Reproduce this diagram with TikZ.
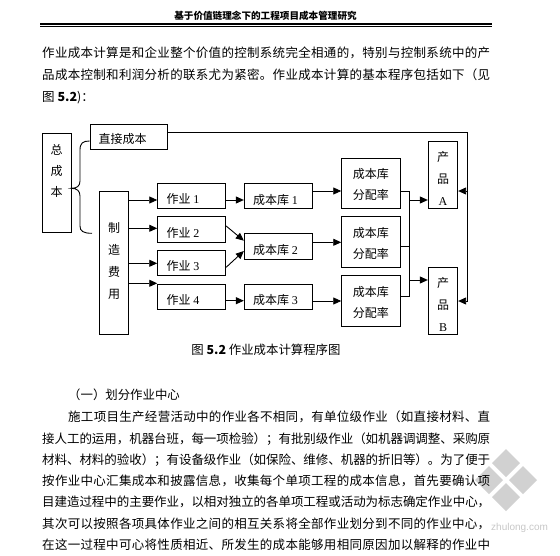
\documentclass[tikz,border=0pt]{standalone}
\usepackage{fontspec}
\setmainfont{Liberation Serif}
\newfontfamily\cjk{Noto Sans CJK SC}
\newfontfamily\lat{Liberation Serif}
\newfontfamily\wmfont{Liberation Sans}
\usetikzlibrary{arrows.meta}
\def\spr#1{#1\sprB}
\def\sprB#1{\ifx\relax#1\else\hskip 0pt plus 1fil minus 1fil\relax#1\expandafter\sprB\fi}
\newcommand\tline[5]{\node[tl] (#1) at (#2,#3) {\makebox[#4pt][s]{\spr#5\relax}};}
\newcommand\rbox[5]{\node[pbox, minimum width={#4-#2}, minimum height={#5-#3}] (#1) at ({(#2+#4)/2},{(#3+#5)/2}) {};}
\tikzset{
  pbox/.style={draw, line width=0.9pt, inner sep=0pt},
  lbl/.style={inner sep=0pt, align=center, font=\cjk\fontsize{12}{21}\selectfont},
  ln/.style={line width=0.9pt},
  arr/.style={line width=0.9pt, -{Triangle[length=8pt,width=7pt]}},
  tl/.style={anchor=base west, inner sep=0pt, font=\cjk\fontsize{12.5}{15}\selectfont},
}
\begin{document}
\begin{tikzpicture}[x=1pt,y=-1pt]
\useasboundingbox (0,0) rectangle (560,555);
% watermark
\fill[black!18] (506,463) +(0,-14) -- +(14,0) -- +(0,14) -- +(-14,0) -- cycle;
\fill[black!18] (506,497) +(0,-14) -- +(14,0) -- +(0,14) -- +(-14,0) -- cycle;
\fill[black!18] (489,480) +(0,-14) -- +(14,0) -- +(0,14) -- +(-14,0) -- cycle;
\fill[black!18] (523,480) +(0,-14) -- +(14,0) -- +(0,14) -- +(-14,0) -- cycle;
\node[anchor=west, font=\wmfont\fontsize{10}{12}\selectfont, text=black!22, inner sep=0pt] (wm) at (491,528) {zhulong.com};
% header
\node[inner sep=0pt, font=\cjk\bfseries\fontsize{9.6}{11}\selectfont] (hdr) at (265.5,16) {基于价值链理念下的工程项目成本管理研究};
\draw[line width=1.5pt] (40,23.8) -- (492,23.8);
\draw[line width=0.6pt] (40,26.7) -- (492,26.7);
% paragraph 1
\tline{p1}{42}{57.75}{448}{作业成本计算是和企业整个价值的控制系统完全相通的，特别与控制系统中的产}
\tline{p2}{42}{79.75}{448}{品成本控制和利润分析的联系尤为紧密。作业成本计算的基本程序包括如下（见}
\node[tl] (p3) at (42,101.75) {图 \textbf{5.2})：};
% diagram boxes
\rbox{zcb}{42}{133}{71}{232}
\rbox{zjcb}{90}{124.3}{167}{149.3}
\rbox{zzfy}{99.3}{191}{128.7}{334}
\rbox{zy1}{157.7}{183.3}{225.7}{208.3}
\rbox{zy2}{157.7}{216.7}{225.7}{242.3}
\rbox{zy3}{157.7}{250.7}{225.7}{275.7}
\rbox{zy4}{157.7}{284.3}{225.7}{309.3}
\rbox{ck1}{244.3}{183.3}{312.7}{208.3}
\rbox{ck2}{244.3}{233.3}{312.7}{259.3}
\rbox{ck3}{244.3}{284.3}{312.7}{309.3}
\rbox{fp1}{341.7}{158.3}{400}{208.3}
\rbox{fp2}{341.7}{216.7}{400}{267.3}
\rbox{fp3}{341.7}{275.7}{400}{326}
\rbox{cpA}{428.3}{141.7}{457.7}{208.3}
\rbox{cpB}{428.3}{267.3}{457.7}{334}
% labels
\node[lbl] (t-zcb) at (56.5,170.8) {总\\成\\本};
\node[lbl, anchor=west] (t-zjcb) at (98.3,139) {直接成本};
\node[lbl, font=\cjk\fontsize{12}{22}\selectfont] (t-zzfy) at (114,261) {制\\造\\费\\用};
\node[lbl, anchor=west] (t-zy1) at (166.5,199) {作业 {\lat 1}};
\node[lbl, anchor=west] (t-zy2) at (166.5,232.5) {作业 {\lat 2}};
\node[lbl, anchor=west] (t-zy3) at (166.5,266) {作业 {\lat 3}};
\node[lbl, anchor=west] (t-zy4) at (166.5,300) {作业 {\lat 4}};
\node[lbl, anchor=west] (t-ck1) at (253,199.5) {成本库 {\lat 1}};
\node[lbl, anchor=west] (t-ck2) at (253,250) {成本库 {\lat 2}};
\node[lbl, anchor=west] (t-ck3) at (253,300) {成本库 {\lat 3}};
\node[lbl] (t-fp1) at (370.8,184.7) {成本库\\分配率};
\node[lbl] (t-fp2) at (370.8,243) {成本库\\分配率};
\node[lbl] (t-fp3) at (370.8,302.5) {成本库\\分配率};
\node[lbl, font=\cjk\fontsize{12}{21.7}\selectfont] (t-cpA) at (443,178.3) {产\\品\\{\lat A}};
\node[lbl, font=\cjk\fontsize{12}{21.7}\selectfont] (t-cpB) at (443,304.4) {产\\品\\{\lat B}};
% brace
\draw[ln] (zjcb.west |- 0,141) .. controls (83,141) and (80,143) .. (80,150) -- (80,181)
  .. controls (80,186) and (77,188.3) .. (zcb.east |- 0,188.3)
  .. controls (77,188.3) and (80,191) .. (80,196) -- (80,226)
  .. controls (80,231) and (83,233.3) .. (92,233.3);
% direct cost line
\coordinate (r1) at (467.7,132.7);
\coordinate (r2) at (467.7,191);
\coordinate (r3) at (467.7,301);
\draw[arr] (zjcb.east |- r1) -- (r1) -- (r3) -- (cpB.east |- r3);
\draw[arr] (r2) -- (cpA.east |- r2);
% overhead to activities
\draw[arr] (zzfy.east |- 0,200) -- (zy1.west |- 0,200);
\draw[arr] (zzfy.east |- 0,228.3) -- (zy2.west |- 0,228.3);
\draw[arr] (zzfy.east |- 0,263.3) -- (zy3.west |- 0,263.3);
\draw[arr] (zzfy.east |- 0,283.3) -- (zy4.west |- 0,283.3);
% activities to pools
\draw[arr] (zy1.east |- 0,200) -- (ck1.west |- 0,200);
\draw[arr] (zy2.east |- 0,226) -- (ck2.west |- 0,240.7);
\draw[arr] (zy3.east |- 0,267.3) -- (ck2.west |- 0,251);
\draw[arr] (zy4.east |- 0,300.7) -- (ck3.west |- 0,300.7);
% pools to rates
\draw[arr] (ck1.east |- 0,191) -- (fp1.west |- 0,191);
\draw[arr] (ck2.east |- 0,242.3) -- (fp2.west |- 0,242.3);
\draw[arr] (ck3.east |- 0,301) -- (fp3.west |- 0,301);
% rates to products
\coordinate (m1) at (409,191);
\coordinate (m2) at (409,246);
\coordinate (m3) at (409,296);
\coordinate (mA) at (409,200);
\coordinate (mB) at (409,280);
\draw[ln] (fp1.east |- m1) -- (m1) -- (m3) -- (fp3.east |- m3);
\draw[ln] (fp2.east |- m2) -- (m2);
\draw[arr] (mA) -- (cpA.west |- mA);
\draw[arr] (mB) -- (cpB.west |- mB);
% caption
\node[inner sep=0pt, font=\cjk\fontsize{12.4}{14}\selectfont] (cap) at (266,350) {图 \textbf{5.2} 作业成本计算程序图};
% section
\node[anchor=west, inner sep=0pt, font=\cjk\fontsize{12.4}{14}\selectfont] (sec) at (68,395) {（一）划分作业中心};
\tline{q1}{68}{421.75}{422}{施工项目生产经营活动中的作业各不相同，有单位级作业（如直接材料、直}
\tline{q2}{42}{443.05}{448}{接人工的运用，机器台班，每一项检验）；有批别级作业（如机器调调整、采购原}
\tline{q3}{42}{464.35}{448}{材料、材料的验收）；有设备级作业（如保险、维修、机器的折旧等）。为了便于}
\tline{q4}{42}{485.65}{448}{按作业中心汇集成本和披露信息，收集每个单项工程的成本信息，首先要确认项}
\tline{q5}{42}{506.95}{448}{目建造过程中的主要作业，以相对独立的各单项工程或活动为标志确定作业中心，}
\tline{q6}{42}{528.25}{448}{其次可以按照各项具体作业之间的相互关系将全部作业划分到不同的作业中心，}
\tline{q7}{42}{549.55}{448}{在这一过程中可心将性质相近、所发生的成本能够用相同原因加以解释的作业中}
\end{tikzpicture}
\end{document}
